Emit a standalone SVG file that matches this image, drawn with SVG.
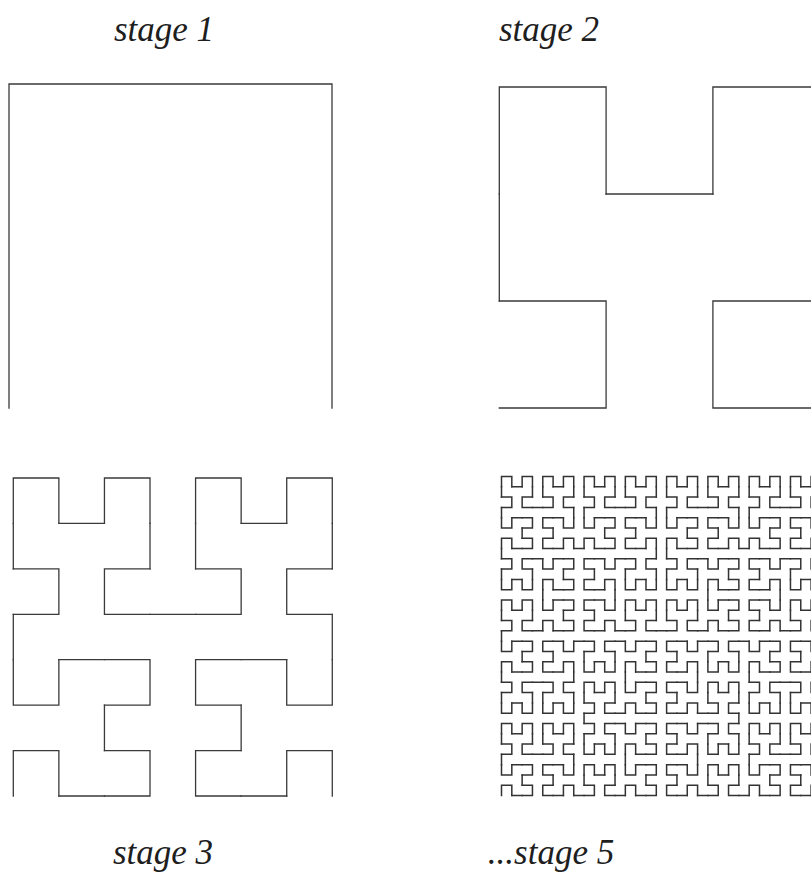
<svg xmlns="http://www.w3.org/2000/svg" xmlns:xlink="http://www.w3.org/1999/xlink" width="811" height="885" viewBox="0 0 811 885">
<style>
.ln{fill:none;stroke-linecap:square;stroke-linejoin:miter;vector-effect:non-scaling-stroke}
.stg{stroke:#3a3a3a;stroke-width:1.3;fill:none}
.lbl{font-family:"Liberation Serif","Times New Roman",serif;font-style:italic;font-size:35px;fill:#1e1e1e;text-anchor:middle}
</style>
<defs>
<g id="H1"><path class="ln" d="M0,0V1H1V0"/></g>
<g id="H2">
<use xlink:href="#H1" href="#H1" transform="matrix(0,1,1,0,0,0)"/>
<use xlink:href="#H1" href="#H1" transform="translate(0,2)"/>
<use xlink:href="#H1" href="#H1" transform="translate(2,2)"/>
<use xlink:href="#H1" href="#H1" transform="matrix(0,-1,-1,0,3,1)"/>
<path class="ln" d="M0,1V2M1,2H2M3,2V1"/>
</g>
<g id="H3">
<use xlink:href="#H2" href="#H2" transform="matrix(0,1,1,0,0,0)"/>
<use xlink:href="#H2" href="#H2" transform="translate(0,4)"/>
<use xlink:href="#H2" href="#H2" transform="translate(4,4)"/>
<use xlink:href="#H2" href="#H2" transform="matrix(0,-1,-1,0,7,3)"/>
<path class="ln" d="M0,3V4M3,4H4M7,4V3"/>
</g>
<g id="H4">
<use xlink:href="#H3" href="#H3" transform="matrix(0,1,1,0,0,0)"/>
<use xlink:href="#H3" href="#H3" transform="translate(0,8)"/>
<use xlink:href="#H3" href="#H3" transform="translate(8,8)"/>
<use xlink:href="#H3" href="#H3" transform="matrix(0,-1,-1,0,15,7)"/>
<path class="ln" d="M0,7V8M7,8H8M15,8V7"/>
</g>
<g id="H5">
<use xlink:href="#H4" href="#H4" transform="matrix(0,1,1,0,0,0)"/>
<use xlink:href="#H4" href="#H4" transform="translate(0,16)"/>
<use xlink:href="#H4" href="#H4" transform="translate(16,16)"/>
<use xlink:href="#H4" href="#H4" transform="matrix(0,-1,-1,0,31,15)"/>
<path class="ln" d="M0,15V16M15,16H16M31,16V15"/>
</g>
</defs>
<rect width="811" height="885" fill="#ffffff"/>
<g id="stage1" class="stg"><use xlink:href="#H1" href="#H1" transform="matrix(323,0,0,-324,9,408)"/></g>
<g id="stage2" class="stg"><use xlink:href="#H2" href="#H2" transform="matrix(106.8,0,0,-107,499.3,408)"/></g>
<g id="stage3" class="stg"><use xlink:href="#H3" href="#H3" transform="matrix(45.57,0,0,-45.43,13.3,796)"/></g>
<g id="stage5" class="stg" style="stroke:#333333;stroke-width:1.5"><use xlink:href="#H5" href="#H5" transform="matrix(10.32,0,0,-10.29,501.5,795.5)"/></g>
<g id="labels">
<text class="lbl" x="164" y="41">stage 1</text>
<text class="lbl" x="549" y="41">stage 2</text>
<text class="lbl" x="163" y="864">stage 3</text>
<text class="lbl" x="551" y="864">...stage 5</text>
</g>
</svg>
